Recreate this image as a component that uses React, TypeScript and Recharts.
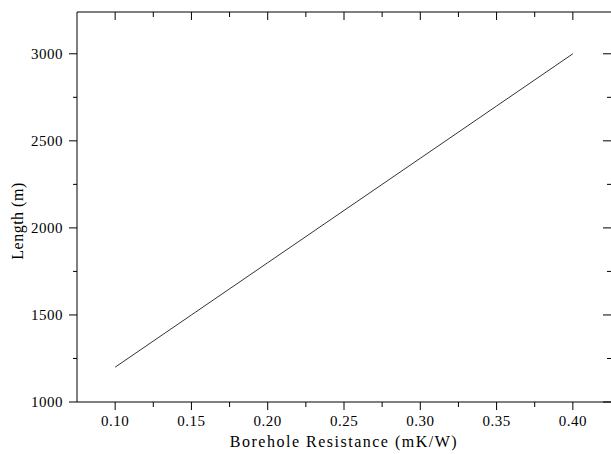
import React from 'react';
import { LineChart, Line, XAxis, YAxis } from 'recharts';

const resistance = [0.1, 0.15, 0.2, 0.25, 0.3, 0.35, 0.4];
const lengthM = [1200, 1500, 1800, 2100, 2400, 2700, 3000];
const xTicks = [0.1, 0.125, 0.15, 0.175, 0.2, 0.225, 0.25, 0.275, 0.3, 0.325, 0.35, 0.375, 0.4];
const yTicks = [1000, 1250, 1500, 1750, 2000, 2250, 2500, 2750, 3000];
const xDomain = [0.075, 0.425];
const yDomain = [1000, 3240];

const data = resistance.map((r, i) => ({ r, len: lengthM[i] }));

const FONT = '"Liberation Serif", "Times New Roman", serif';
const isMajorX = (v: number) => Math.abs(v * 20 - Math.round(v * 20)) < 1e-6;
const isMajorY = (v: number) => v % 500 === 0;

const BottomTick = (props: any) => {
  const { x, y, payload } = props;
  const major = isMajorX(payload.value);
  return (
    <g>
      <line x1={x} x2={x} y1={y} y2={y + (major ? 8 : 5)} stroke="#000" strokeWidth={1} />
      {major && (
        <text x={x} y={y + 24} textAnchor="middle" fontFamily={FONT} fontSize={15} letterSpacing={0.5} fill="#000">
          {payload.value.toFixed(2)}
        </text>
      )}
    </g>
  );
};

const TopTick = (props: any) => {
  const { x, y, payload } = props;
  const major = isMajorX(payload.value);
  return <line x1={x} x2={x} y1={y} y2={y + (major ? 8 : 5)} stroke="#000" strokeWidth={1} />;
};

const LeftTick = (props: any) => {
  const { x, y, payload } = props;
  const major = isMajorY(payload.value);
  return (
    <g>
      <line x1={x} x2={x - (major ? 8 : 4)} y1={y} y2={y} stroke="#000" strokeWidth={1} />
      {major && (
        <text x={x - 14} y={y + 5} textAnchor="end" fontFamily={FONT} fontSize={15} letterSpacing={0.5} fill="#000">
          {payload.value}
        </text>
      )}
    </g>
  );
};

const RightTick = (props: any) => {
  const { x, y, payload } = props;
  const major = isMajorY(payload.value);
  return <line x1={x} x2={x - (major ? 8 : 4)} y1={y} y2={y} stroke="#000" strokeWidth={1} />;
};

export default function App() {
  return (
    <div style={{ position: 'absolute', left: 0, top: 0, width: 611, height: 454, overflow: 'hidden', background: '#fff' }}>
      <LineChart width={620} height={454} data={data} margin={{ top: 11, right: 8, bottom: 0, left: 0 }}>
        <XAxis
          dataKey="r"
          type="number"
          domain={xDomain}
          allowDataOverflow
          ticks={xTicks}
          interval={0}
          tickSize={0}
          tickMargin={0}
          tickLine={false}
          tick={<BottomTick />}
          axisLine={{ stroke: '#000', strokeWidth: 1 }}
          height={52}
        />
        <XAxis
          xAxisId="top"
          orientation="top"
          dataKey="r"
          type="number"
          domain={xDomain}
          allowDataOverflow
          ticks={xTicks}
          interval={0}
          tickSize={0}
          tickMargin={0}
          tickLine={false}
          tick={<TopTick />}
          axisLine={{ stroke: '#000', strokeWidth: 1 }}
          height={1}
        />
        <YAxis
          type="number"
          domain={yDomain}
          allowDataOverflow
          ticks={yTicks}
          interval={0}
          tickSize={0}
          tickMargin={0}
          tickLine={false}
          tick={<LeftTick />}
          axisLine={{ stroke: '#000', strokeWidth: 1 }}
          width={77}
        />
        <YAxis
          yAxisId="right"
          orientation="right"
          type="number"
          domain={yDomain}
          allowDataOverflow
          ticks={yTicks}
          interval={0}
          tickSize={0}
          tickMargin={0}
          tickLine={false}
          tick={<RightTick />}
          axisLine={false}
          width={1}
        />
        <Line
          dataKey="len"
          type="linear"
          stroke="#333"
          strokeWidth={1}
          dot={false}
          isAnimationActive={false}
        />
        <Line
          xAxisId="top"
          yAxisId="right"
          dataKey="len"
          type="linear"
          stroke="none"
          dot={false}
          legendType="none"
          isAnimationActive={false}
        />
      </LineChart>
      <div
        style={{
          position: 'absolute',
          left: 77,
          width: 534,
          top: 433,
          textAlign: 'center',
          fontFamily: FONT,
          fontSize: 16,
          letterSpacing: 1.5,
          lineHeight: '18px',
          color: '#000',
          whiteSpace: 'nowrap',
        }}
      >
        Borehole Resistance (mK/W)
      </div>
      <svg style={{ position: 'absolute', left: 0, top: 0 }} width={40} height={454}>
        <text
          x={0}
          y={0}
          transform="translate(17,221) rotate(-90)"
          textAnchor="middle"
          dominantBaseline="central"
          fontFamily={FONT}
          fontSize={16}
          letterSpacing={0.5}
          fill="#000"
        >
          Length (m)
        </text>
      </svg>
    </div>
  );
}
